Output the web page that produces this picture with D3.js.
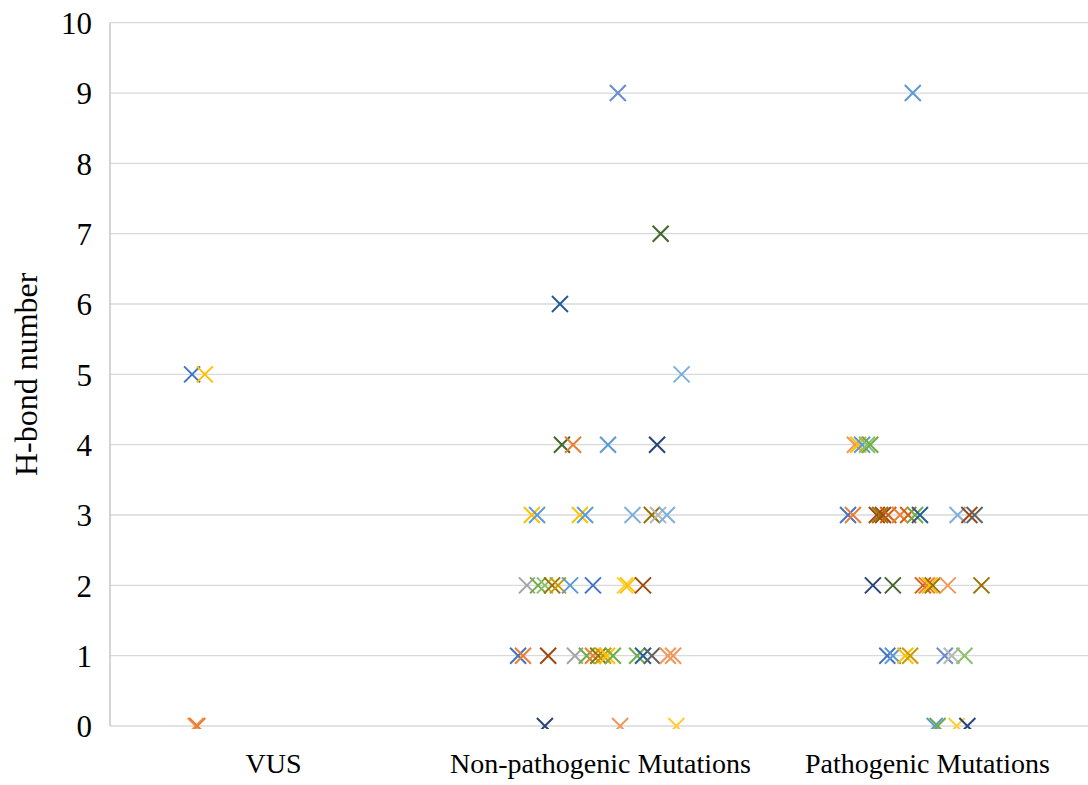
<!DOCTYPE html>
<html>
<head>
<meta charset="utf-8">
<script src="https://cdn.jsdelivr.net/npm/d3@7"></script>
<style>
  html, body { margin: 0; padding: 0; background: #fff; }
  svg { display: block; }
  text { font-family: "Liberation Serif", "Times New Roman", serif; fill: #000; }
</style>
</head>
<body>
<svg id="chart" width="1088" height="785"></svg>
<script>
// ---- data ----
const categories = ["VUS", "Non-pathogenic Mutations", "Pathogenic Mutations"];
const yTicks = [0, 1, 2, 3, 4, 5, 6, 7, 8, 9, 10];
const yTitle = "H-bond number";

// each point: [x position in category units (jittered), H-bond number, colour index]
const palette = ["#5B9BD5", "#ED7D31", "#A5A5A5", "#FFC000", "#4472C4", "#70AD47",
                 "#255E91", "#9E480E", "#636363", "#997300", "#264478", "#43682B",
                 "#7CAFDD", "#F1975A", "#B7B7B7", "#FFCD33", "#698ED0", "#8CC168",
                 "#327DC2", "#D26012", "#848484", "#CC9A00", "#335AA1", "#5A8A39"];

const vusPoints = [
  [0.751, 5, 4], [0.790, 5, 3],
  [0.762, 0, 13], [0.767, 0, 1]
];
const nonPathPoints = [
  [2.053, 9, 16],
  [2.184, 7, 11],
  [1.876, 6, 6],
  [2.248, 5, 12],
  [1.882, 4, 11], [1.916, 4, 1], [2.023, 4, 0], [2.173, 4, 10],
  [1.790, 3, 3], [1.806, 3, 0], [1.937, 3, 3], [1.953, 3, 0],
  [2.098, 3, 12], [2.157, 3, 9], [2.176, 3, 14], [2.203, 3, 12],
  [1.775, 2, 2], [1.809, 2, 5], [1.830, 2, 17], [1.852, 2, 9], [1.870, 2, 21],
  [1.907, 2, 0], [1.977, 2, 4], [2.075, 2, 15], [2.084, 2, 3], [2.130, 2, 7],
  [1.748, 1, 4], [1.763, 1, 1], [1.840, 1, 7], [1.922, 1, 2], [1.958, 1, 5],
  [1.977, 1, 1], [1.993, 1, 9], [2.008, 1, 21], [2.020, 1, 3], [2.038, 1, 5],
  [2.112, 1, 5], [2.130, 1, 6], [2.157, 1, 8], [2.206, 1, 13], [2.222, 1, 13],
  [1.830, 0, 10], [2.060, 0, 13], [2.232, 0, 15]
];
const pathPoints = [
  [2.955, 9, 0],
  [2.778, 4, 13], [2.788, 4, 3], [2.800, 4, 0], [2.815, 4, 17], [2.825, 4, 5],
  [2.757, 3, 4], [2.772, 3, 1], [2.845, 3, 7], [2.855, 3, 9], [2.864, 3, 7],
  [2.880, 3, 19], [2.916, 3, 1], [2.941, 3, 19], [2.962, 3, 5], [2.977, 3, 6],
  [3.092, 3, 12], [3.128, 3, 7], [3.144, 3, 8],
  [2.833, 2, 10], [2.894, 2, 11], [2.986, 2, 19], [2.998, 2, 1], [3.007, 2, 3],
  [3.016, 2, 9], [3.062, 2, 13], [3.165, 2, 9],
  [2.877, 1, 4], [2.894, 1, 0], [2.932, 1, 3], [2.947, 1, 21],
  [3.053, 1, 16], [3.074, 1, 14], [3.113, 1, 17],
  [3.022, 0, 0], [3.031, 0, 5], [3.089, 0, 15], [3.122, 0, 10]
];

// ---- layout ----
const svg = d3.select("#chart");
const margin = { left: 110, right: -3, top: 22.7, bottom: 59 };
const W = 1088, H = 785;
const x = d3.scaleLinear().domain([0.5, 3.5]).range([margin.left, W - margin.right]);
const y = d3.scaleLinear().domain([0, 10]).range([H - margin.bottom, margin.top]);

// gridlines
svg.append("g")
  .selectAll("line")
  .data(yTicks)
  .join("line")
  .attr("x1", margin.left).attr("x2", W)
  .attr("y1", d => y(d)).attr("y2", d => y(d))
  .attr("stroke", "#d9d9d9").attr("stroke-width", 1.3);

// left axis line
svg.append("line")
  .attr("x1", margin.left).attr("x2", margin.left)
  .attr("y1", y(10)).attr("y2", y(0))
  .attr("stroke", "#bfbfbf").attr("stroke-width", 1.3);

// y tick labels
const yAxis = d3.axisLeft(y).tickValues(yTicks).tickSize(0).tickPadding(18);
const gy = svg.append("g").attr("transform", `translate(${margin.left},0)`).call(yAxis);
gy.select(".domain").remove();
gy.selectAll("text")
  .style("font-family", '"Liberation Serif", "Times New Roman", serif')
  .style("font-size", "31px").attr("fill", "#000").attr("dy", "0.35em");

// category labels
svg.append("g")
  .selectAll("text")
  .data(categories)
  .join("text")
  .attr("x", (d, i) => x(i + 1))
  .attr("y", 773)
  .attr("text-anchor", "middle")
  .style("font-size", "28px")
  .text(d => d);

// y title
svg.append("text")
  .attr("transform", `translate(37, ${(y(0) + y(10)) / 2}) rotate(-90)`)
  .attr("text-anchor", "middle")
  .style("font-size", "32px")
  .text(yTitle);

// clip path so markers at 0 are cut at plot bottom
svg.append("clipPath").attr("id", "plotclip")
  .append("rect")
  .attr("x", 0).attr("y", 0)
  .attr("width", W).attr("height", y(0) + 3);

const allPoints = [...vusPoints, ...nonPathPoints, ...pathPoints];
const s = 8;
svg.append("g").attr("clip-path", "url(#plotclip)")
  .selectAll("path")
  .data(allPoints)
  .join("path")
  .attr("d", d => {
    const cx = x(d[0]), cy = y(d[1]);
    return `M${cx - s},${cy - s}L${cx + s},${cy + s}M${cx - s},${cy + s}L${cx + s},${cy - s}`;
  })
  .attr("fill", "none")
  .attr("stroke", d => palette[d[2]])
  .attr("stroke-width", 2);
</script>
</body>
</html>
